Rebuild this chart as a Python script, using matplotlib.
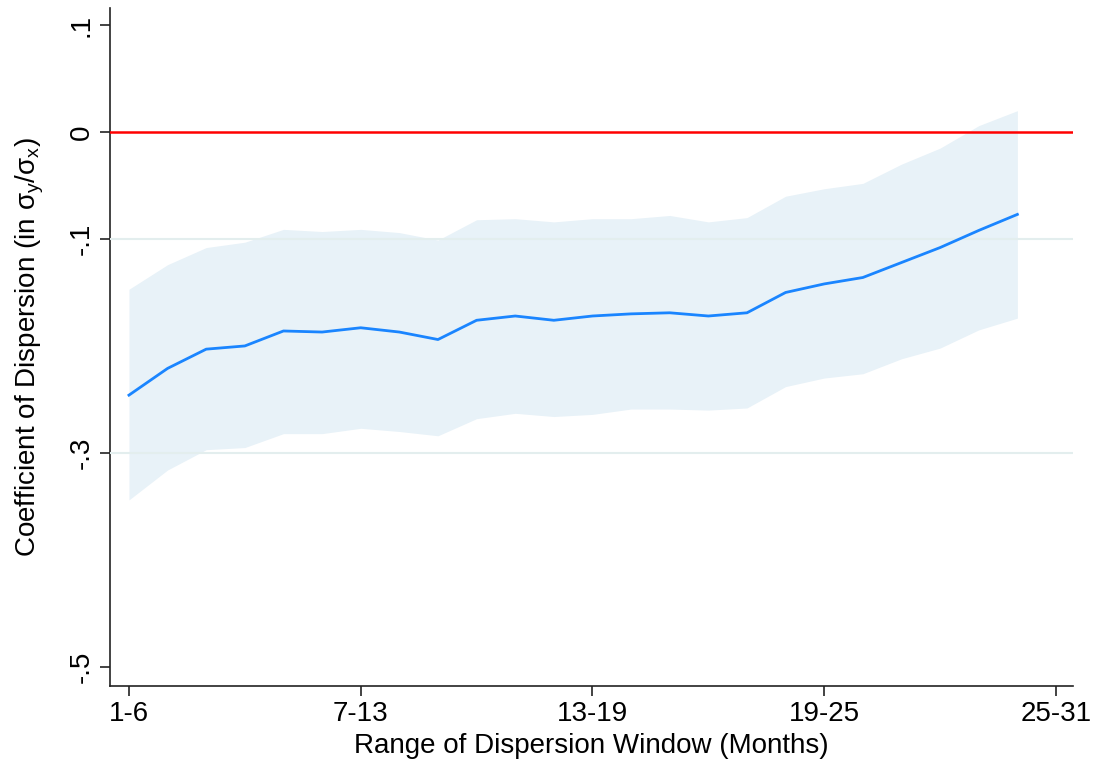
import matplotlib
matplotlib.use("Agg")
import matplotlib.pyplot as plt

plt.rcParams["font.family"] = ["Liberation Sans", "DejaVu Sans"]
plt.rcParams["mathtext.default"] = "regular"

# window index (1 = months 1-6, ..., 24)
window = list(range(1, 25))
coef = [-0.246, -0.221, -0.203, -0.200, -0.186, -0.187, -0.183, -0.187, -0.194,
        -0.176, -0.172, -0.176, -0.172, -0.170, -0.169, -0.172, -0.169, -0.150,
        -0.142, -0.136, -0.122, -0.108, -0.092, -0.077]
ci_hi = [-0.147, -0.124, -0.108, -0.103, -0.091, -0.093, -0.091, -0.094, -0.101,
         -0.082, -0.081, -0.084, -0.081, -0.081, -0.078, -0.084, -0.080, -0.060,
         -0.053, -0.048, -0.030, -0.015, 0.006, 0.020]
ci_lo = [-0.344, -0.316, -0.297, -0.295, -0.282, -0.282, -0.277, -0.280, -0.284,
         -0.268, -0.263, -0.266, -0.264, -0.259, -0.259, -0.260, -0.258, -0.238,
         -0.230, -0.226, -0.212, -0.202, -0.185, -0.174]

xtick_pos = [1, 7, 13, 19, 25]
xtick_labels = ["1-6", "7-13", "13-19", "19-25", "25-31"]
ytick_pos = [0.1, 0, -0.1, -0.3, -0.5]
ytick_labels = [".1", "0", "-.1", "-.3", "-.5"]

fig = plt.figure(figsize=(10.94, 7.62), dpi=100)
ax = fig.add_axes([0.1005, 0.0997, 0.8803, 0.8898])

for g in (-0.1, -0.3):
    ax.axhline(g, color="#e3eeee", lw=1.5, zorder=3)

ax.fill_between(window, ci_lo, ci_hi, color="#e8f2f8", lw=0, zorder=1)
ax.axhline(0, color="#ff0000", lw=1.8, zorder=4)
ax.plot(window, coef, color="#1a85ff", lw=2.0, zorder=5)

ax.set_xlim(0.508, 25.44)
ax.set_ylim(-0.518, 0.116)
ax.set_xticks(xtick_pos)
ax.set_xticklabels(xtick_labels)
ax.set_yticks(ytick_pos)
ax.set_yticklabels(ytick_labels, rotation=90, va="center")

for side in ("top", "right"):
    ax.spines[side].set_visible(False)
for side in ("left", "bottom"):
    ax.spines[side].set_linewidth(1.2)
    ax.spines[side].set_color("#222222")
ax.tick_params(axis="both", length=7, width=1.2, color="#222222",
               labelsize=20, pad=4)

ax.set_xlabel("Range of Dispersion Window (Months)", fontsize=20, labelpad=4)
ax.set_ylabel(r"Coefficient of Dispersion (in σ$_y$/σ$_x$)", fontsize=20, labelpad=16)

plt.savefig("out.png", dpi=100)
plt.close()
